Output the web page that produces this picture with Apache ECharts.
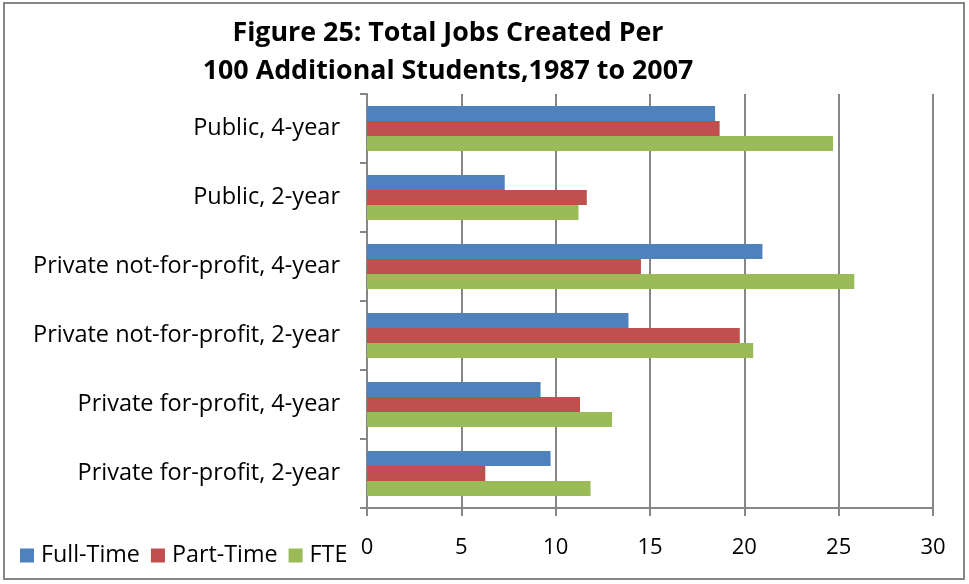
<!DOCTYPE html>
<html><head><meta charset="utf-8">
<script src="https://cdn.jsdelivr.net/npm/echarts@6/dist/echarts.min.js"></script>
<style>html,body{margin:0;padding:0;background:#fff}#c{width:969px;height:584px}</style>
</head><body><div id="c"></div>
<script>
const categories = ["Public, 4-year","Public, 2-year","Private not-for-profit, 4-year","Private not-for-profit, 2-year","Private for-profit, 4-year","Private for-profit, 2-year"];
const fullTime = [18.45, 7.3, 20.96, 13.86, 9.2, 9.73];
const partTime = [18.69, 11.65, 14.52, 19.76, 11.29, 6.27];
const fte = [24.7, 11.21, 25.83, 20.47, 12.99, 11.85];
const seriesNames = ["Full-Time","Part-Time","FTE"];
const colors = ["#4F81BD","#C0504D","#9BBB59"];
const FONT = "Open Sans";
const chart = echarts.init(document.getElementById('c'));
const gray = '#868686';
const mk = (name, data, i) => ({
  name, type: 'bar', data, barGap: '0%', barCategoryGap: '35%',
  itemStyle: {color: colors[i]}, emphasis: {disabled: true}
});
chart.setOption({
  animation: false,
  textStyle: {fontFamily: FONT},
  title: {
    text: 'Figure 25: Total Jobs Created Per\n100 Additional Students,1987 to 2007',
    left: 443, top: 9, textAlign: 'center',
    textStyle: {fontFamily: FONT, fontWeight: 'bold', fontSize: 26.8, lineHeight: 38, color: '#000'}
  },
  legend: {
    left: 15, top: 539, itemWidth: 14, itemHeight: 14, itemGap: 11,
    icon: 'rect',
    textStyle: {fontFamily: FONT, fontSize: 23.3, color: '#000', padding: [0,0,0,2]},
    data: seriesNames
  },
  grid: {left: 367, right: 36, top: 94, bottom: 76, containLabel: false},
  xAxis: {
    type: 'value', min: 0, max: 30, interval: 5,
    axisLine: {show: true, lineStyle: {color: gray, width: 2}},
    axisTick: {show: true, length: 8, lineStyle: {color: gray, width: 2}},
    splitLine: {show: true, lineStyle: {color: gray, width: 2}},
    axisLabel: {fontFamily: FONT, fontSize: 22, color: '#000', margin: 29}
  },
  yAxis: {
    type: 'category', data: categories, inverse: true,
    axisLine: {show: true, lineStyle: {color: gray, width: 2}},
    axisTick: {show: true, length: 7, lineStyle: {color: gray, width: 2}},
    axisLabel: {fontFamily: FONT, fontSize: 23.5, color: '#000', margin: 27}
  },
  graphic: [{
    type: 'rect', shape: {x: 4, y: 3, width: 960, height: 576},
    style: {fill: 'none', stroke: gray, lineWidth: 2}, silent: true, z: -1
  }],
  series: [mk(seriesNames[0], fullTime, 0), mk(seriesNames[1], partTime, 1), mk(seriesNames[2], fte, 2)]
});
</script></body></html>
